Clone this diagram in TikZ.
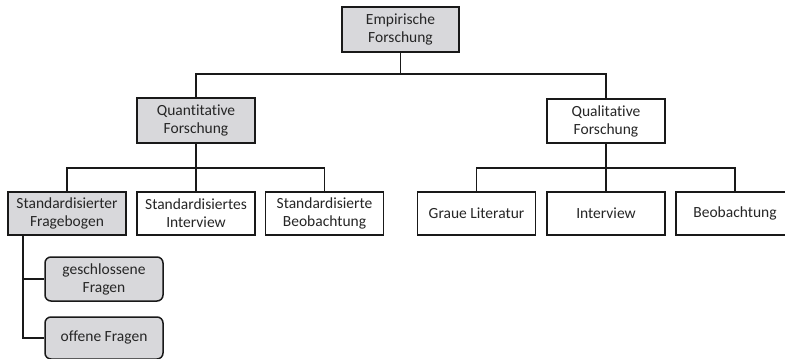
\documentclass[tikz,border=0pt]{standalone}
\usepackage{fontspec}
\setmainfont{Carlito}[Ligatures={NoCommon,NoRare,NoContextual}]
\definecolor{boxgray}{RGB}{216,216,219}
\definecolor{linecol}{RGB}{25,25,25}
\begin{document}
\begin{tikzpicture}[x=1pt,y=-1pt,
  every node/.style={font=\fontsize{15.5}{18}\selectfont, text=black!85, align=center, inner sep=0pt},
  box/.style={draw=linecol, line width=1.5pt, minimum width=118pt, minimum height=44pt},
  graybox/.style={box, fill=boxgray},
  whitebox/.style={box, fill=white},
  roundbox/.style={graybox, rounded corners=6pt},
  conn/.style={draw=linecol, line width=1.5pt}]
\useasboundingbox (0,0) rectangle (785,359);
\fill[white] (0,0) rectangle (785,359);

\node[graybox, minimum width=117pt, minimum height=45pt] (emp) at (400.5,29.5) {Empirische\\Forschung};
\node[graybox, minimum height=45pt] (quant) at (196,120.5) {Quantitative\\Forschung};
\node[whitebox, minimum height=44pt] (qual) at (606,121) {Qualitative\\Forschung};

\node[graybox, minimum height=43pt] (sfb) at (67,213.5) {Standardisierter\\Fragebogen};
\node[whitebox, minimum height=43pt] (sint) at (196,213.5) {Standardisiertes\\Interview};
\node[whitebox, minimum height=43pt] (sbeo) at (324.5,213.5) {Standardisierte\\Beobachtung};

\node[whitebox, minimum height=43pt] (graue) at (476.5,213.5) {Graue Literatur};
\node[whitebox, minimum height=43pt] (inter) at (606,213.5) {Interview};
\node[whitebox, minimum height=43pt] (beob) at (735,213.5) {Beobachtung};

\node[roundbox] (gesch) at (104,279) {geschlossene\\Fragen};
\node[roundbox, minimum height=42pt] (offen) at (104,338) {offene Fragen};

% level 1
\coordinate (j1) at (400.5,74);
\coordinate (j1l) at (196,74);
\coordinate (j1r) at (606,74);
\draw[conn] (emp.south) -- (j1);
\draw[conn] (quant.north) -- (j1l) -- (j1r) -- (qual.north);

% level 2 left
\coordinate (j2) at (196,168);
\coordinate (j2l) at (67,168);
\coordinate (j2r) at (324.5,168);
\draw[conn] (quant.south) -- (j2);
\draw[conn] (sfb.north) -- (j2l) -- (j2r) -- (sbeo.north);
\draw[conn] (j2) -- (sint.north);

% level 2 right
\coordinate (j3) at (606,168);
\coordinate (j3l) at (476.5,168);
\coordinate (j3r) at (735,168);
\draw[conn] (qual.south) -- (j3);
\draw[conn] (graue.north) -- (j3l) -- (j3r) -- (beob.north);
\draw[conn] (j3) -- (inter.north);

% level 3
\coordinate (v0) at (23,235);
\coordinate (v1) at (23,279);
\coordinate (v2) at (23,338);
\draw[conn] (v0) -- (v2) -- (offen.west);
\draw[conn] (v1) -- (gesch.west);
\end{tikzpicture}
\end{document}
